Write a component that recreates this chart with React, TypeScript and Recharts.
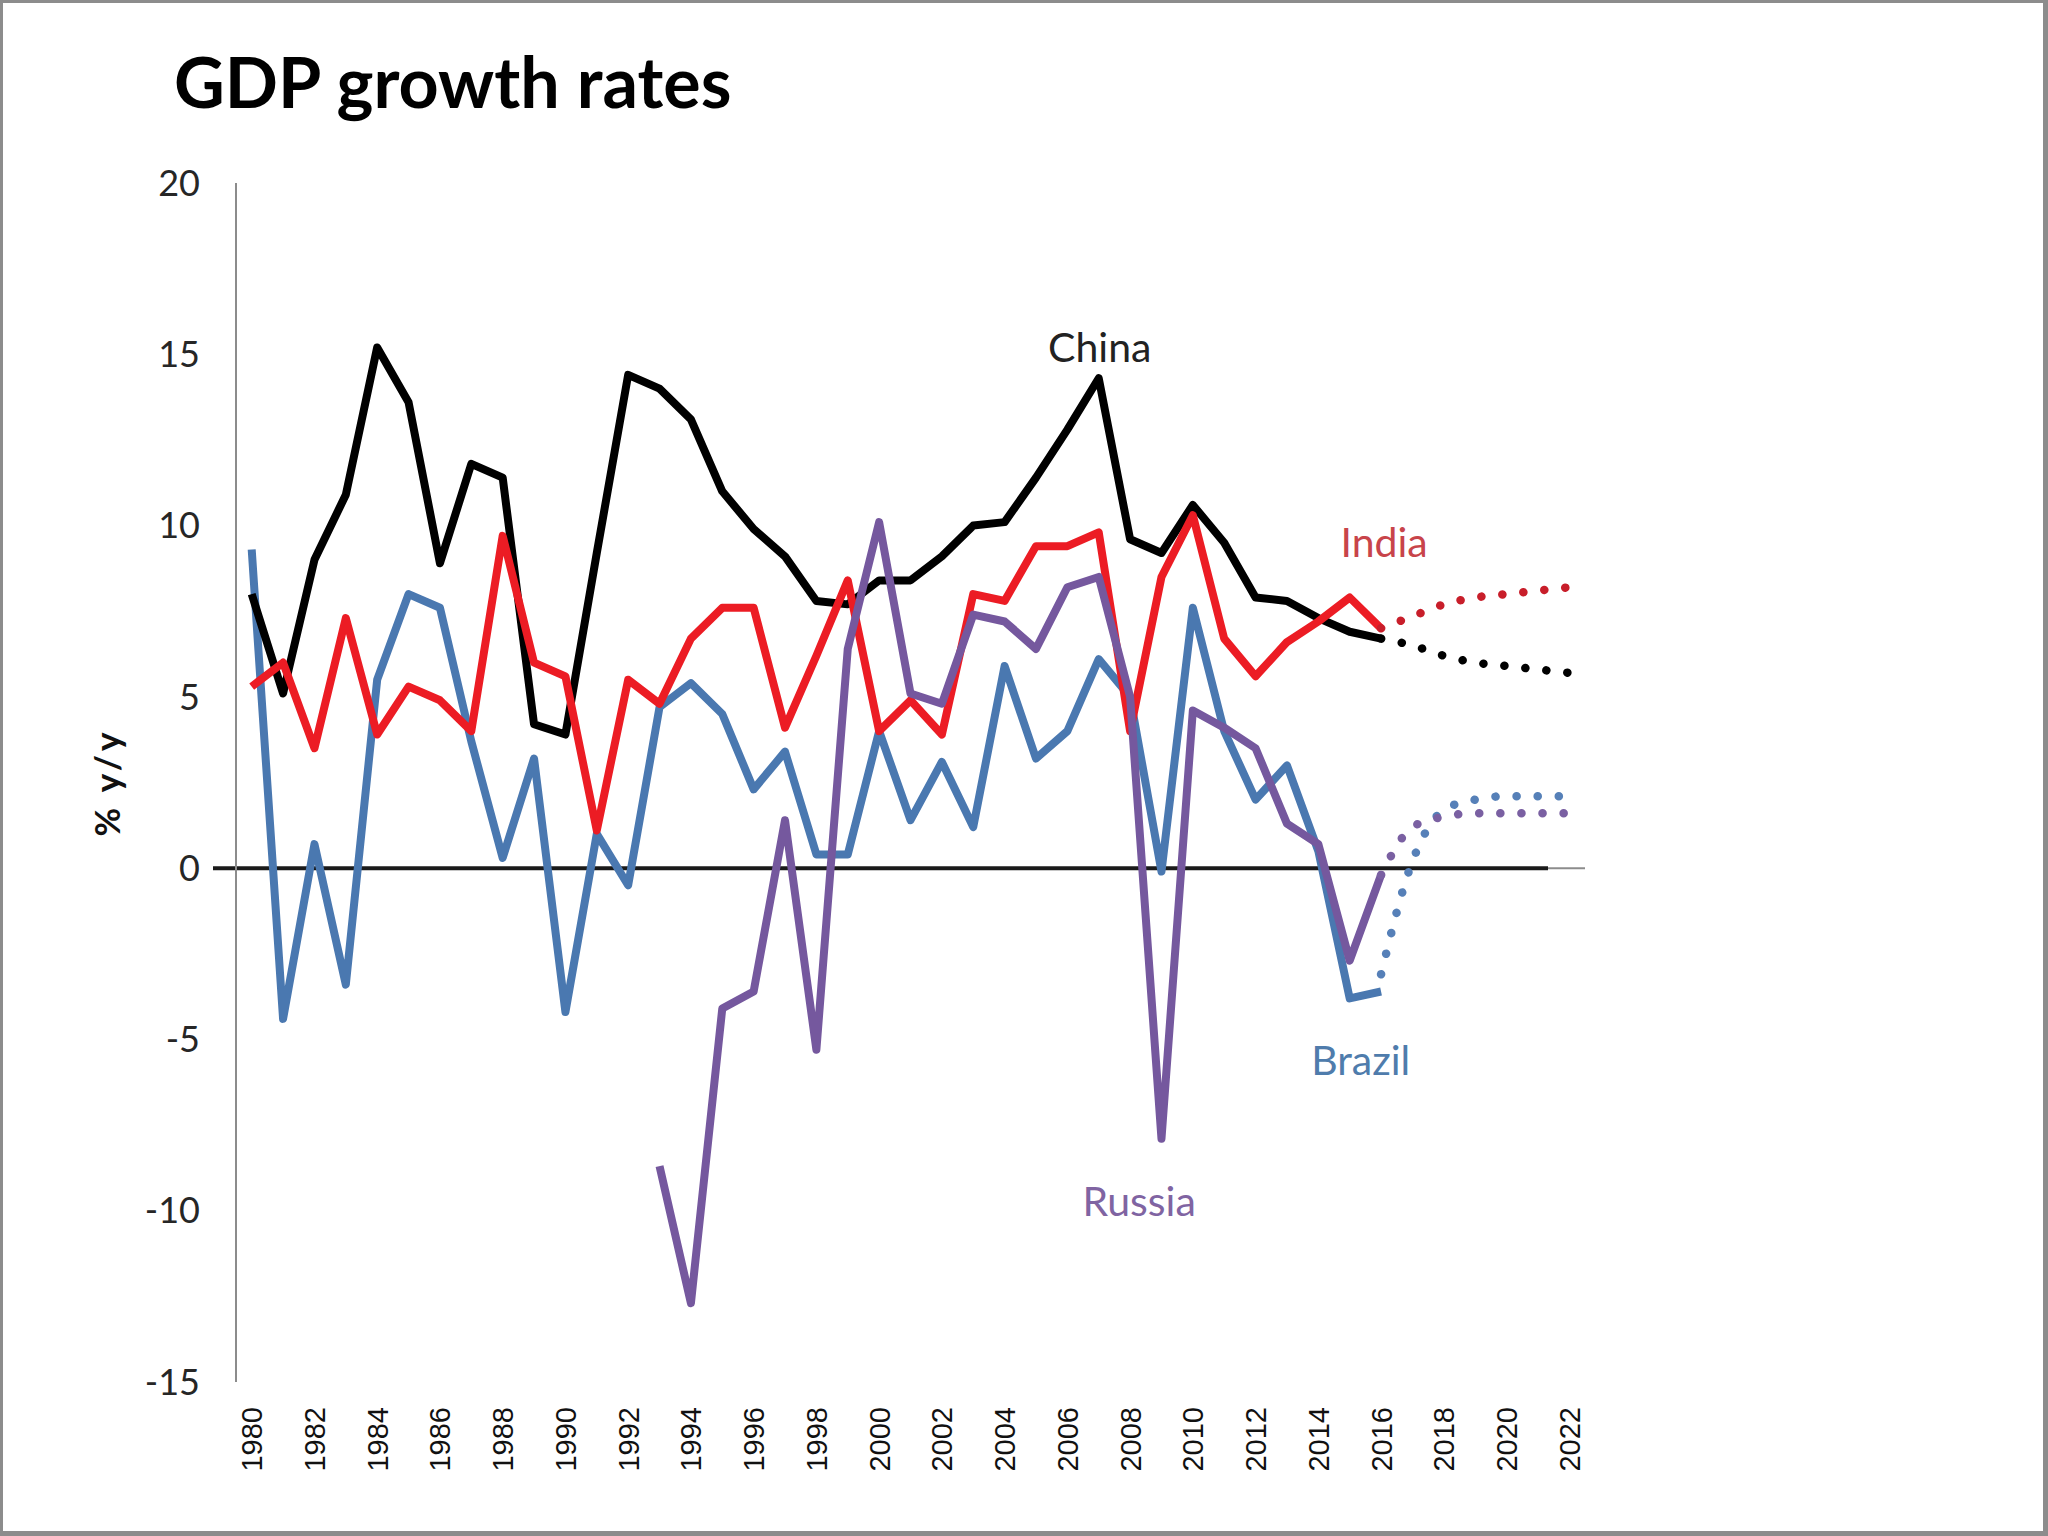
import React from 'react';
import { LineChart, Line, XAxis, YAxis, ReferenceLine, ReferenceDot } from 'recharts';

// ---------- data ----------
const years = [
  '1980', '1981', '1982', '1983', '1984', '1985', '1986', '1987', '1988', '1989',
  '1990', '1991', '1992', '1993', '1994', '1995', '1996', '1997', '1998', '1999',
  '2000', '2001', '2002', '2003', '2004', '2005', '2006', '2007', '2008', '2009',
  '2010', '2011', '2012', '2013', '2014', '2015', '2016', '2017', '2018', '2019',
  '2020', '2021', '2022',
];

const actualStartYear = 1980;
const chinaGrowth = [
  8.0, 5.1, 9.0, 10.9, 15.2, 13.6, 8.9, 11.8, 11.4, 4.2,
  3.9, 9.2, 14.4, 14.0, 13.1, 11.0, 9.9, 9.1, 7.8, 7.7,
  8.4, 8.4, 9.1, 10.0, 10.1, 11.4, 12.8, 14.3, 9.6, 9.2,
  10.6, 9.5, 7.9, 7.8, 7.3, 6.9, 6.7,
];
const indiaGrowth = [
  5.3, 6.0, 3.5, 7.3, 3.9, 5.3, 4.9, 4.0, 9.7, 6.0,
  5.6, 1.1, 5.5, 4.8, 6.7, 7.6, 7.6, 4.1, 6.2, 8.4,
  4.0, 4.9, 3.9, 8.0, 7.8, 9.4, 9.4, 9.8, 4.0, 8.5,
  10.3, 6.7, 5.6, 6.6, 7.2, 7.9, 7.0,
];
const brazilGrowth = [
  9.3, -4.4, 0.7, -3.4, 5.5, 8.0, 7.6, 3.7, 0.3, 3.2,
  -4.2, 1.0, -0.5, 4.7, 5.4, 4.5, 2.3, 3.4, 0.4, 0.4,
  4.0, 1.4, 3.1, 1.2, 5.9, 3.2, 4.0, 6.1, 5.0, -0.1,
  7.6, 4.0, 2.0, 3.0, 0.5, -3.8, -3.6,
];
const russiaStartYear = 1993;
const russiaGrowth = [
  -8.7, -12.7, -4.1, -3.6, 1.4, -5.3, 6.4,
  10.1, 5.1, 4.8, 7.4, 7.2, 6.4, 8.2, 8.5, 5.0, -7.9,
  4.6, 4.1, 3.5, 1.3, 0.7, -2.7, -0.2,
];

const forecastStartYear = 2016;
const chinaForecast = [6.7, 6.5, 6.2, 6.0, 5.9, 5.8, 5.7];
const indiaForecast = [7.0, 7.35, 7.7, 7.9, 8.0, 8.1, 8.2];
const brazilForecast = [-3.1, 0.2, 1.7, 2.0, 2.1, 2.1, 2.1];
const russiaForecast = [-0.2, 1.2, 1.5, 1.6, 1.6, 1.6, 1.6];

const yTicks = [-15, -10, -5, 0, 5, 10, 15, 20];

const pick = (arr: number[], start: number, year: number) => {
  const i = year - start;
  return i >= 0 && i < arr.length ? arr[i] : null;
};

const data = years.map((y) => {
  const n = Number(y);
  return {
    year: y,
    china: pick(chinaGrowth, actualStartYear, n),
    india: pick(indiaGrowth, actualStartYear, n),
    brazil: pick(brazilGrowth, actualStartYear, n),
    russia: pick(russiaGrowth, russiaStartYear, n),
    chinaF: pick(chinaForecast, forecastStartYear, n),
    indiaF: pick(indiaForecast, forecastStartYear, n),
    brazilF: pick(brazilForecast, forecastStartYear, n),
    russiaF: pick(russiaForecast, forecastStartYear, n),
  };
});

// ---------- styles ----------
const BLACK = '#000000';
const RED = '#ec1c24';
const BLUE = '#4a78b0';
const PURPLE = '#75589e';
const FONT = 'Lato, "Open Sans", sans-serif';
const LINE_W = 8;
const DOT_W = 8.5;
const DOT_DASH = '0.1 21';

const seriesLabel = (text: string, color: string, dx: number) => (props: any) => {
  const vb = props.viewBox || {};
  return (
    <text
      x={(vb.x || 0) + dx}
      y={vb.y || 0}
      dy="0.36em"
      textAnchor="middle"
      fill={color}
      fontFamily={FONT}
      fontSize={41}
    >
      {text}
    </text>
  );
};

const XTick = (props: any) => {
  const { x, y, payload } = props;
  return (
    <text
      x={x}
      y={y}
      dy="0.36em"
      textAnchor="end"
      transform={`rotate(-90 ${x} ${y})`}
      fill="#111"
      fontFamily='"Liberation Sans", Arial, sans-serif'
      fontSize={29}
    >
      {payload.value}
    </text>
  );
};

const YLabel = (props: any) => {
  const vb = props.viewBox || {};
  const x = (vb.x || 0) + 60;
  const y = (vb.y || 0) + (vb.height || 0) / 2;
  return (
    <text
      x={x}
      y={y}
      textAnchor="middle"
      transform={`rotate(-90 ${x} ${y})`}
      fill="#111"
      fontFamily={FONT}
      fontWeight={700}
      fontSize={35}
      letterSpacing={4}
    >
      % y/y
    </text>
  );
};

const ZeroLine = (p: any) => (
  <line x1={p.x1 - 23} y1={p.y1} x2={p.x2 - 37} y2={p.y2} stroke="#1a1a1a" strokeWidth={4} />
);

export default function App() {
  return (
    <div
      style={{
        position: 'absolute',
        left: 0,
        top: 0,
        width: 2048,
        height: 1536,
        boxSizing: 'border-box',
        borderStyle: 'solid',
        borderColor: '#8c8c8c',
        borderWidth: '3px 5px 5px 3px',
        background: '#ffffff',
        overflow: 'hidden',
      }}
    >
      <div style={{ position: 'absolute', left: -3, top: -3 }}>
        <LineChart
          width={2048}
          height={1536}
          data={data}
          margin={{ top: 183, right: 463, bottom: 4, left: 60 }}
        >
          <XAxis
            dataKey="year"
            interval={1}
            axisLine={false}
            tickLine={false}
            tickSize={6}
            tickMargin={19}
            height={150}
            padding={{ left: 15.7, right: 15.7 }}
            tick={<XTick />}
          />
          <YAxis
            domain={[-15, 20]}
            ticks={yTicks}
            interval={0}
            width={176}
            axisLine={{ stroke: '#8c8c8c', strokeWidth: 2 }}
            tickLine={false}
            tickSize={6}
            tickMargin={30}
            tick={{ fill: '#262626', fontFamily: FONT, fontSize: 36 }}
            label={YLabel}
          />
          <ReferenceLine y={0} stroke="#8c8c8c" strokeWidth={2} />
          <ReferenceLine y={0} shape={ZeroLine} />

          <Line dataKey="brazil" type="linear" stroke={BLUE} strokeWidth={LINE_W} strokeLinejoin="round" dot={false} activeDot={false} isAnimationActive={false} />
          <Line dataKey="china" type="linear" stroke={BLACK} strokeWidth={LINE_W} strokeLinejoin="round" dot={false} activeDot={false} isAnimationActive={false} />
          <Line dataKey="india" type="linear" stroke={RED} strokeWidth={LINE_W} strokeLinejoin="round" dot={false} activeDot={false} isAnimationActive={false} />
          <Line dataKey="russia" type="linear" stroke={PURPLE} strokeWidth={LINE_W} strokeLinejoin="round" dot={false} activeDot={false} isAnimationActive={false} />

          <Line dataKey="chinaF" type="monotone" stroke={BLACK} strokeWidth={DOT_W} strokeLinecap="round" strokeDasharray={DOT_DASH} dot={false} activeDot={false} isAnimationActive={false} />
          <Line dataKey="indiaF" type="monotone" stroke="#c81e2a" strokeWidth={DOT_W} strokeLinecap="round" strokeDasharray={DOT_DASH} dot={false} activeDot={false} isAnimationActive={false} />
          <Line dataKey="brazilF" type="monotone" stroke="#5680b8" strokeWidth={DOT_W} strokeLinecap="round" strokeDasharray={DOT_DASH} dot={false} activeDot={false} isAnimationActive={false} />
          <Line dataKey="russiaF" type="monotone" stroke="#7a60a2" strokeWidth={DOT_W} strokeLinecap="round" strokeDasharray={DOT_DASH} dot={false} activeDot={false} isAnimationActive={false} />

          <ReferenceDot x="2007" y={15.2} r={0} fill="none" stroke="none" label={seriesLabel('China', '#222222', 1)} />
          <ReferenceDot x="2016" y={9.5} r={0} fill="none" stroke="none" label={seriesLabel('India', '#c8444a', 3)} />
          <ReferenceDot x="2015" y={-5.6} r={0} fill="none" stroke="none" label={seriesLabel('Brazil', '#4f7cac', 11)} />
          <ReferenceDot x="2008" y={-9.73} r={0} fill="none" stroke="none" label={seriesLabel('Russia', '#8064a2', 9)} />
        </LineChart>
      </div>
      <svg
        width={2048}
        height={1536}
        style={{ position: 'absolute', left: -3, top: -3, pointerEvents: 'none' }}
      >
        <text x={174} y={108} fill="#000" fontFamily={FONT} fontWeight={700} fontSize={70}>
          GDP growth rates
        </text>
      </svg>
    </div>
  );
}
